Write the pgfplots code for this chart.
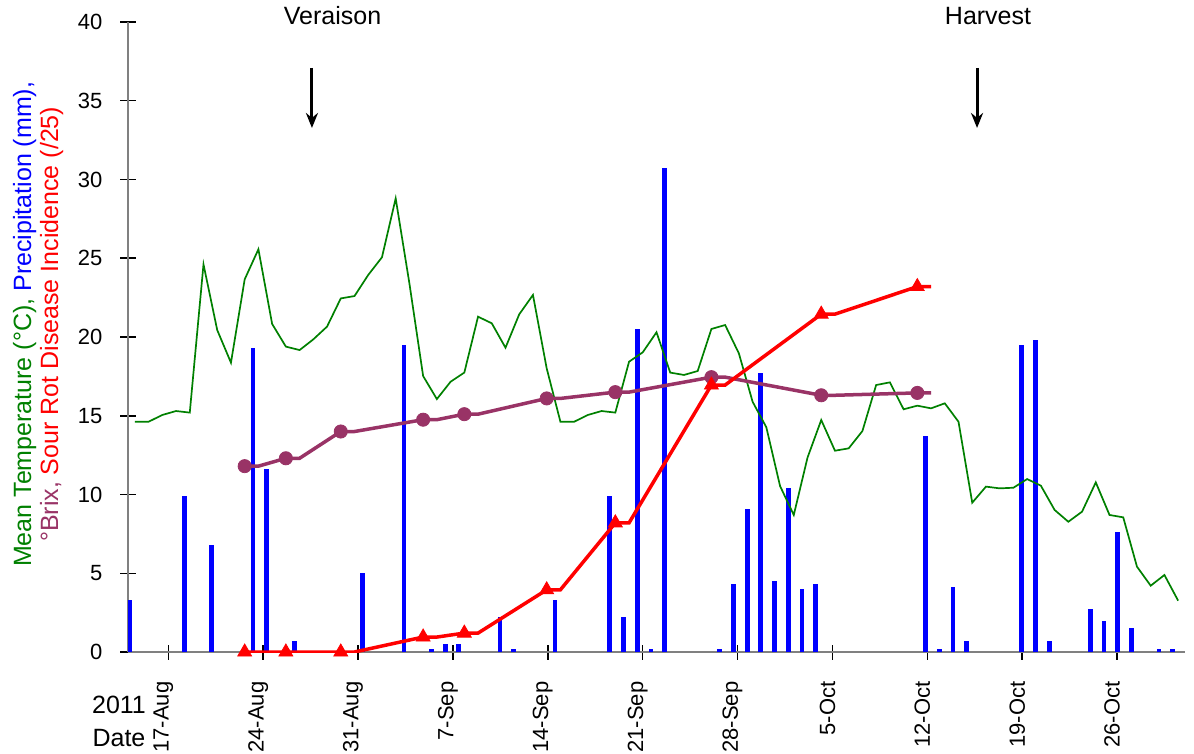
\documentclass[border=0pt]{standalone}
\usepackage{fontspec}
\setmainfont{Liberation Sans}
\usepackage{pgfplots}
\pgfplotsset{compat=1.18}
\usetikzlibrary{arrows.meta}
\definecolor{tempgreen}{RGB}{0,128,0}
\definecolor{precblue}{RGB}{0,0,255}
\definecolor{brixc}{RGB}{153,51,102}
\definecolor{rotred}{RGB}{255,0,0}
\definecolor{axgray}{RGB}{128,128,128}
\begin{document}
\begin{tikzpicture}
\begin{axis}[
  name=main,
  scale only axis,
  width=528.5pt, height=315pt,
  xmin=0, xmax=77, ymin=0, ymax=40,
  axis x line*=bottom, axis y line*=left,
  axis line style={axgray, line width=1pt},
  ytick={0,5,...,40},
  xtick={2.94,9.85,16.76,23.67,30.58,37.49,44.40,51.32,58.23,65.14,72.05},
  xticklabels={17-Aug,24-Aug,31-Aug,7-Sep,14-Sep,21-Sep,28-Sep,5-Oct,12-Oct,19-Oct,26-Oct},
  tick align=center,
  major tick length=7.5pt,
  tick style={black, line width=0.75pt},
  /pgf/number format/assume math mode=true,
  tick label style={font=\fontsize{11}{13}\selectfont},
  yticklabel style={xshift=-5.5pt},
  xticklabel style={rotate=90, anchor=east, xshift=-7.5pt, yshift=2.5pt},
  ylabel={\textcolor{tempgreen}{Mean Temperature (°C),} \textcolor{precblue}{Precipitation (mm),}\\\textcolor{brixc}{°Brix,} \textcolor{rotred}{Sour Rot Disease Incidence (/25)}},
  ylabel style={at={(axis description cs:-0.085,0.52)}, anchor=center, align=center, font=\fontsize{12.5}{13.5}\selectfont},
]
% precipitation (mm)
\addplot[ycomb, precblue, line width=2.4pt, no markers] coordinates {
(0.1,3.3) (4.1,9.9) (6.1,6.8) (9.1,19.3) (10.1,11.6) (12.1,0.7) (17.1,5.0) (20.1,19.5)
(22.1,0.2) (23.1,0.5) (24.1,0.5) (27.1,2.2) (28.1,0.2) (31.1,3.3) (35.1,9.9) (36.1,2.2)
(37.1,20.5) (38.1,0.2) (39.1,30.7) (43.1,0.2) (44.1,4.3) (45.1,9.1) (46.1,17.7) (47.1,4.5)
(48.1,10.4) (49.1,4.0) (50.1,4.3) (58.1,13.7) (59.1,0.2) (60.1,4.1) (61.1,0.7) (65.1,19.5)
(66.1,19.8) (67.1,0.7) (70.1,2.7) (71.1,2.0) (72.1,7.6) (73.1,1.5) (75.1,0.2) (76.1,0.2)
};
% mean temperature
\addplot[tempgreen, line width=0.85pt, no markers] table {
x y
0.5 14.62
1.5 14.62
2.5 15.05
3.5 15.30
4.5 15.20
5.5 24.61
6.5 20.44
7.5 18.37
8.5 23.66
9.5 25.57
10.5 20.83
11.5 19.39
12.5 19.17
13.5 19.85
14.5 20.66
15.5 22.45
16.5 22.60
17.5 23.94
18.5 25.06
19.5 28.80
20.5 23.40
21.5 17.52
22.5 16.06
23.5 17.16
24.5 17.74
25.5 21.29
26.5 20.87
27.5 19.32
28.5 21.44
29.5 22.67
30.5 18.01
31.5 14.62
32.5 14.62
33.5 15.05
34.5 15.30
35.5 15.20
36.5 18.43
37.5 19.03
38.5 20.30
39.5 17.74
40.5 17.59
41.5 17.84
42.5 20.51
43.5 20.76
44.5 18.96
45.5 15.89
46.5 14.27
47.5 10.54
48.5 8.70
49.5 12.34
50.5 14.73
51.5 12.78
52.5 12.93
53.5 14.03
54.5 16.95
55.5 17.12
56.5 15.41
57.5 15.64
58.5 15.47
59.5 15.79
60.5 14.62
61.5 9.48
62.5 10.50
63.5 10.39
64.5 10.43
65.5 10.98
66.5 10.56
67.5 9.02
68.5 8.27
69.5 8.91
70.5 10.77
71.5 8.70
72.5 8.55
73.5 5.42
74.5 4.21
75.5 4.89
76.5 3.26
};
% Brix line
\addplot[brixc, line width=1.75pt, no markers] coordinates {
(8.5,11.8)(9.5,11.8)(11.5,12.3)(12.5,12.3)(15.5,14.0)(16.5,14.0)(21.5,14.75)(22.5,14.75)
(24.5,15.1)(25.5,15.1)(30.5,16.1)(31.5,16.1)(35.5,16.5)(36.5,16.5)(42.5,17.45)(43.5,17.45)
(50.5,16.3)(51.5,16.3)(57.5,16.45)(58.5,16.45)
};
\addplot[only marks, mark=*, mark size=3.3pt, brixc] coordinates {
(8.5,11.8)(11.5,12.3)(15.5,14.0)(21.5,14.75)(24.5,15.1)(30.5,16.1)(35.5,16.5)(42.5,17.45)(50.5,16.3)(57.5,16.45)
};
% Sour rot incidence
\addplot[rotred, line width=1.75pt, no markers] coordinates {
(8.5,0)(9.5,0)(11.5,0)(12.5,0)(15.5,0)(16.5,0)(21.5,0.95)(22.5,0.95)
(24.5,1.2)(25.5,1.2)(30.5,3.95)(31.5,3.95)(35.5,8.2)(36.5,8.2)(42.5,16.95)(43.5,16.95)
(50.5,21.45)(51.5,21.45)(57.5,23.2)(58.5,23.2)
};
\addplot[only marks, mark=triangle*, mark size=4pt, rotred] coordinates {
(8.5,0)(11.5,0)(15.5,0)(21.5,0.95)(24.5,1.2)(30.5,3.95)(35.5,8.2)(42.5,16.95)(50.5,21.45)(57.5,23.2)
};
\coordinate (vtext) at (axis cs:14.9,40.38);
\coordinate (vtop) at (axis cs:13.4,37.08);
\coordinate (vbot) at (axis cs:13.4,33.27);
\coordinate (htext) at (axis cs:62.65,40.38);
\coordinate (htop) at (axis cs:61.85,37.08);
\coordinate (hbot) at (axis cs:61.85,33.27);
\end{axis}
\node[font=\fontsize{12.5}{14}\selectfont] at (vtext) {Veraison};
\node[font=\fontsize{12.5}{14}\selectfont] at (htext) {Harvest};
\draw[-{Stealth[length=7.5pt,width=6pt]}, line width=1.5pt] (vtop) -- (vbot);
\draw[-{Stealth[length=7.5pt,width=6pt]}, line width=1.5pt] (htop) -- (hbot);
\node[font=\fontsize{12.5}{14}\selectfont] at ([xshift=-4.5pt,yshift=-26.5pt]main.south west) {2011};
\node[font=\fontsize{12.5}{14}\selectfont] at ([xshift=-4.5pt,yshift=-43pt]main.south west) {Date};
\pgfresetboundingbox
\path[use as bounding box] ([xshift=-64pt,yshift=-50.5pt]main.south west) rectangle ([xshift=4.5pt,yshift=11pt]main.north east);
\end{tikzpicture}
\end{document}
